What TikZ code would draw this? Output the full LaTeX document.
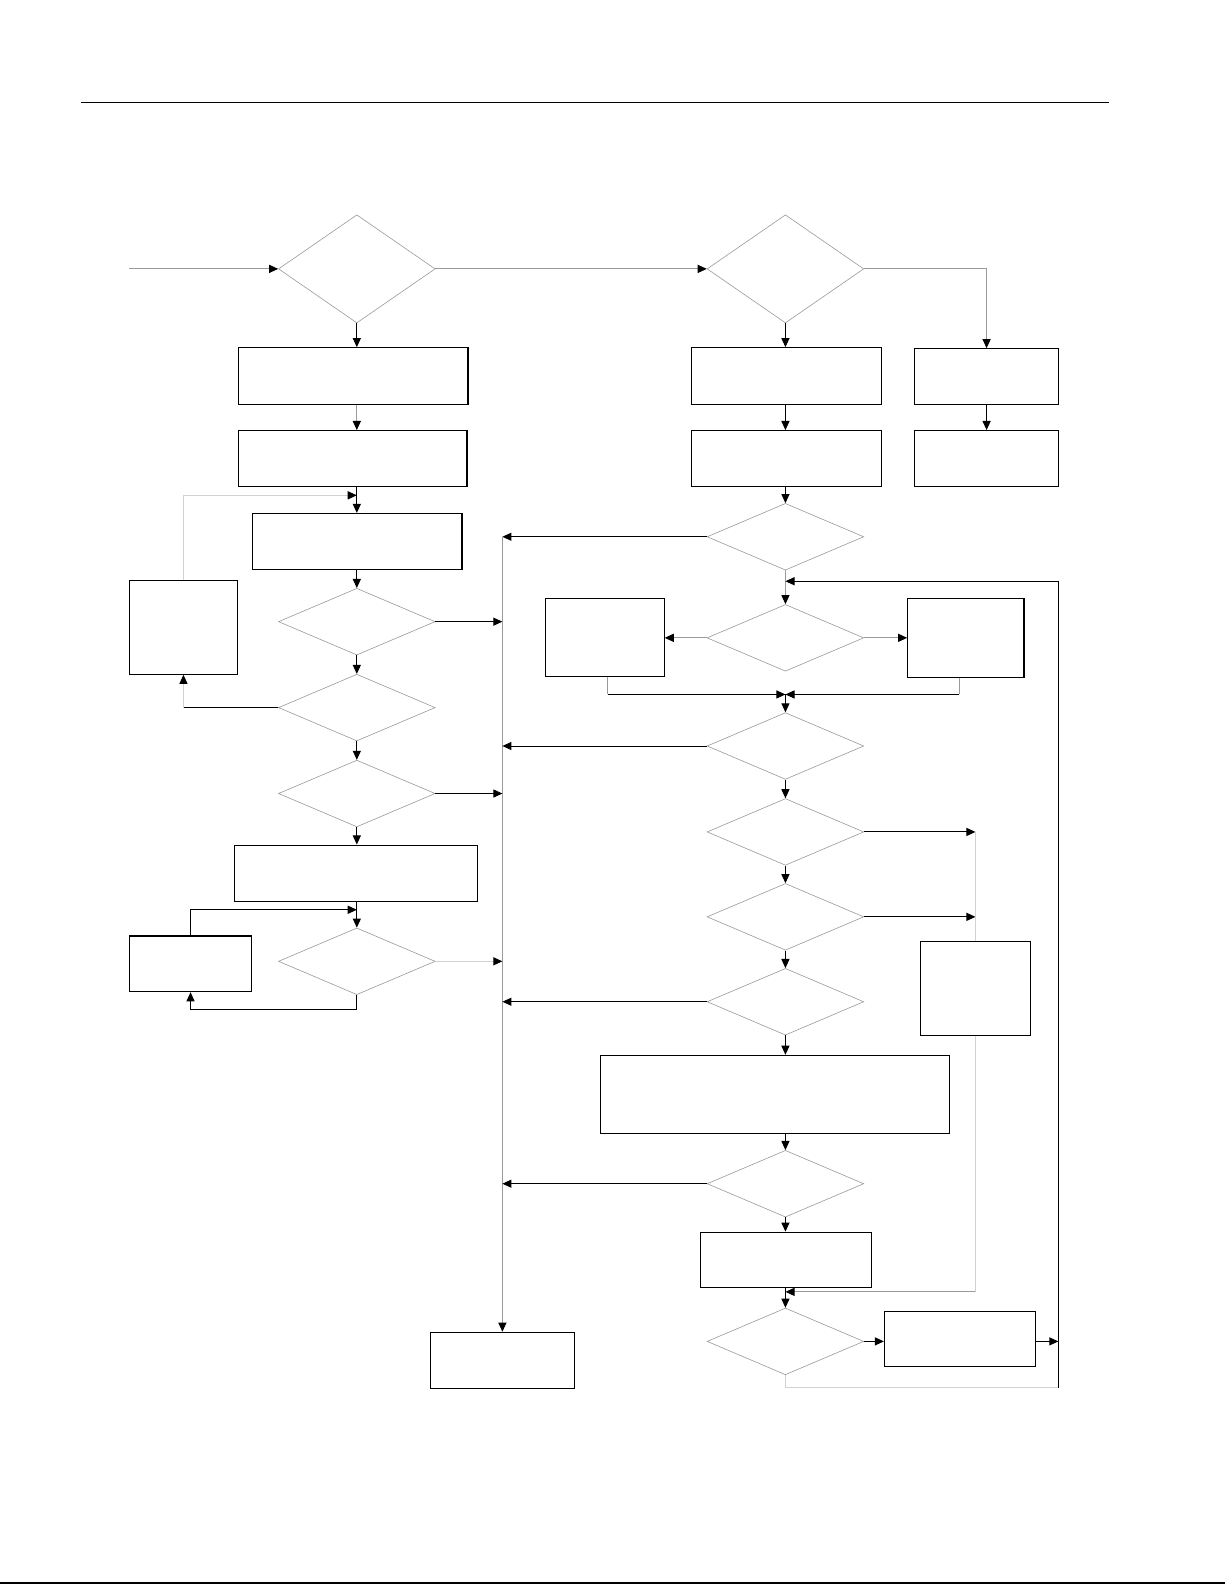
\documentclass[tikz,border=0pt]{standalone}
\usepackage{xcolor}
\usepackage{tikz}
\usetikzlibrary{arrows.meta,shapes.geometric,calc}
\definecolor{lineg}{HTML}{9A9A9A}
\definecolor{faint}{HTML}{D2D2D2}
\tikzset{
  procbox/.style={
    rectangle, draw=black, fill=white, line width=1.1pt,
    inner sep=0pt
  },
  decision/.style={
    diamond, draw=lineg, fill=white, line width=0.6pt,
    inner sep=0pt, minimum width=155, minimum height=66
  },
  flowarrow/.style={
    -{Triangle[length=9pt,width=8pt,color=black]}, line width=1pt, draw=#1
  },
  flowarrow/.default=black,
  flowline/.style={line width=1pt, draw=#1},
  flowline/.default=black,
}

\begin{document}
\begin{tikzpicture}[x=1pt,y=-1pt]
    \useasboundingbox (0,0) rectangle (1212,1568);
    \draw[line width=1pt] (80,101) -- (1097,101);
    \draw[line width=1pt] (0,1566) -- (1212,1566);

    % left column
    \node[decision, minimum height=107] (d1) at (353,266) {};
    \node[procbox, minimum width=227, minimum height=56] (b1) at (349.5,372) {};
    \node[procbox, minimum width=226, minimum height=55] (b2) at (349,453.5) {};
    \node[procbox, minimum width=207, minimum height=55] (b3) at (353.5,535.5) {};
    \node[procbox, minimum width=107, minimum height=93] (l1) at (181.5,620.5) {};
    \node[decision] (d3) at (353,615) {};
    \node[decision] (d4) at (353,700) {};
    \node[decision] (d5) at (353,785) {};
    \node[procbox, minimum width=240, minimum height=56] (b4) at (352,864) {};
    \node[decision] (d6) at (353,951) {};
    \node[procbox, minimum width=121, minimum height=55] (l2) at (188.5,953.5) {};
    \node[procbox, minimum width=143, minimum height=56] (endbox) at (497,1346) {};

    % right column
    \node[decision, minimum height=107] (d2) at (777,266) {};
    \node[procbox, minimum width=188, minimum height=56] (rb1) at (778,372) {};
    \node[procbox, minimum width=188, minimum height=55] (rb2) at (778,453.5) {};
    \node[procbox, minimum width=143, minimum height=55] (r1) at (976,372.5) {};
    \node[procbox, minimum width=142, minimum height=55] (r2) at (976,453.5) {};
    \node[decision] (d7) at (777,531) {};
    \node[decision] (d8) at (777,631) {};
    \node[procbox, minimum width=117, minimum height=77] (lb) at (598.5,631) {};
    \node[procbox, minimum width=115, minimum height=78] (rbx) at (955.5,631.5) {};
    \node[decision] (d9) at (777,738) {};
    \node[decision] (d10) at (777,823) {};
    \node[decision] (d11) at (777,907) {};
    \node[decision] (d12) at (777,991) {};
    \node[procbox, minimum width=345, minimum height=77] (wide) at (766.5,1082.5) {};
    \node[decision] (d13) at (777,1171) {};
    \node[procbox, minimum width=169, minimum height=55] (b5) at (777.5,1246.5) {};
    \node[decision] (d14) at (777,1327) {};
    \node[procbox, minimum width=149, minimum height=55] (b6) at (949.5,1324.5) {};

    \coordinate (entry) at (128,266);
    \coordinate (b3in) at (353,490);
    \coordinate (d6in) at (353,900);
    \coordinate (d6low) at (353,999);
    \coordinate (bustop) at (497,531);
    \coordinate (retin) at (777,575);
    \coordinate (retright) at (1047,575);
    \coordinate (merge) at (777,687);
    \coordinate (lbout) at ($(lb.south)+(2.5,0)$);
    \coordinate (rbxout) at ($(rbx.south)+(-6.5,0)$);
    \coordinate (sidetop) at (965,823);
    \coordinate (sidelow) at (965,1278);
    \coordinate (b5out) at (777,1278);
    \coordinate (d14low) at (777,1373);

    % top row
    \draw[flowarrow=lineg] (entry) -- (d1.west);
    \draw[flowarrow=lineg] (d1.east) -- (d2.west);
    \draw[flowarrow=lineg] (d2.east) -| (r1.north);

    % left chain
    \draw[flowarrow] (d1.south) -- (d1.south |- b1.north);
    \draw[flowarrow=lineg] (b1.south -| d1.south) -- (b2.north -| d1.south);
    \draw[flowarrow] (b2.south -| d1.south) -- (b3.north -| d1.south);
    \draw[flowarrow=faint] (l1.north) |- (b3in);
    \draw[flowarrow] (b3.south -| d3.north) -- (d3.north);
    \draw[flowarrow] (d3.south) -- (d4.north);
    \draw[flowarrow] (d4.south) -- (d5.north);
    \draw[flowarrow] (d5.south) -- (d5.south |- b4.north);
    \draw[flowarrow] (b4.south -| d6.north) -- (d6.north);
    \draw[flowline] (d4.west) -- (d4.west -| l1.south);
    \draw[flowarrow=faint] (d4.west -| l1.south) -- (l1.south);
    \draw[flowarrow] (l2.north) |- (d6in);
    \draw[flowarrow] (d6.south) -- (d6low) -| (l2.south);

    % bus
    \draw[flowarrow=lineg] (bustop) -- (endbox.north);
    \draw[flowarrow] (d3.east) -- (d3.east -| bustop);
    \draw[flowarrow] (d5.east) -- (d5.east -| bustop);
    \draw[flowarrow=faint] (d6.east) -- (d6.east -| bustop);
    \draw[flowarrow] (d7.west) -- (d7.west -| bustop);
    \draw[flowarrow] (d9.west) -- (d9.west -| bustop);
    \draw[flowarrow] (d12.west) -- (d12.west -| bustop);
    \draw[flowarrow] (d13.west) -- (d13.west -| bustop);

    % right chain
    \draw[flowarrow] (d2.south) -- (d2.south |- rb1.north);
    \draw[flowarrow] (rb1.south -| d2.south) -- (rb2.north -| d2.south);
    \draw[flowarrow] (r1.south) -- (r2.north);
    \draw[flowarrow] (rb2.south -| d7.north) -- (d7.north);
    \draw[flowarrow=lineg] (d7.south) -- (d8.north);
    \draw[flowarrow] (retright) -- (retin);
    \draw[flowarrow=lineg] (d8.west) -- (d8.west -| lb.east);
    \draw[flowarrow=lineg] (d8.east) -- (d8.east -| rbx.west);
    \draw[flowline=lineg] (lbout) -- (lbout |- merge);
    \draw[flowarrow] (lbout |- merge) -- (merge);
    \draw[flowline=lineg] (rbxout) -- (rbxout |- merge);
    \draw[flowarrow] (rbxout |- merge) -- (merge);
    \draw[flowarrow] (merge) -- (d9.north);
    \draw[flowarrow] (d9.south) -- (d10.north);
    \draw[flowarrow] (d10.south) -- (d11.north);
    \draw[flowarrow] (d11.south) -- (d12.north);
    \draw[flowarrow] (d10.east) -- (sidetop);
    \draw[flowarrow] (d11.east) -- (d11.east -| sidetop);
    \draw[flowline=faint] (sidetop) -- (sidelow);
    \draw[flowarrow=lineg] (sidelow) -- (b5out);
    \node[procbox, minimum width=108, minimum height=93] (rs) at (965,977.5) {};
    \draw[flowarrow] (d12.south) -- (d12.south |- wide.north);
    \draw[flowarrow] (wide.south -| d13.north) -- (d13.north);
    \draw[flowarrow] (d13.south) -- (d13.south |- b5.north);
    \draw[flowarrow] (b5.south -| d14.north) -- (d14.north);
    \draw[flowarrow] (d14.east) -- (d14.east -| b6.west);
    \draw[flowarrow] (b6.east |- d14.east) -- (d14.east -| retright);
    \draw[flowline=faint] (d14.south) -- (d14low) -- (d14low -| retright);
    \draw[flowline] (d14low -| retright) -- (retright);
\end{tikzpicture}
\end{document}
